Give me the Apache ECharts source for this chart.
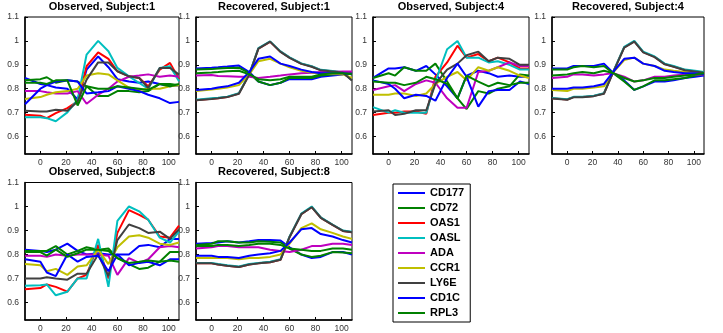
<!DOCTYPE html>
<html>
<head>
<meta charset="utf-8">
<script src="https://cdn.jsdelivr.net/npm/echarts@6/dist/echarts.min.js"></script>
<style>
  html, body { margin: 0; padding: 0; background: #fff; }
  #chart { width: 723px; height: 333px; }
</style>
</head>
<body>
<div id="chart"></div>
<script>
// time points (hours)
const hours = [-12, 0, 5, 12, 21, 29, 36, 45, 53, 60, 69, 77, 84, 93, 101, 108];
const genes = ["CD177", "CD72", "OAS1", "OASL", "ADA", "CCR1", "LY6E", "CD1C", "RPL3"];
const xTicks = [0, 20, 40, 60, 80, 100];
const yTicks = [0.6, 0.7, 0.8, 0.9, 1, 1.1];
const titles = ["Observed, Subject:1", "Recovered, Subject:1", "Observed, Subject:4",
  "Recovered, Subject:4", "Observed, Subject:8", "Recovered, Subject:8"];

// rows follow the genes order
const obs1 = [
  [0.845, 0.82, 0.815, 0.805, 0.80, 0.755, 0.88, 0.935, 0.89, 0.84, 0.83, 0.825, 0.83, 0.82, 0.81, 0.815],
  [0.835, 0.84, 0.848, 0.825, 0.835, 0.83, 0.81, 0.77, 0.77, 0.79, 0.79, 0.785, 0.79, 0.82, 0.82, 0.815],
  [0.691, 0.687, 0.677, 0.698, 0.719, 0.747, 0.894, 0.952, 0.925, 0.873, 0.852, 0.845, 0.81, 0.88, 0.908, 0.84],
  [0.681, 0.681, 0.677, 0.664, 0.701, 0.754, 0.943, 1.0, 0.957, 0.887, 0.852, 0.824, 0.80, 0.887, 0.894, 0.831],
  [0.79, 0.79, 0.785, 0.78, 0.78, 0.79, 0.737, 0.775, 0.80, 0.83, 0.85, 0.855, 0.86, 0.85, 0.855, 0.85],
  [0.757, 0.765, 0.775, 0.785, 0.79, 0.80, 0.855, 0.865, 0.86, 0.835, 0.805, 0.795, 0.80, 0.80, 0.81, 0.815],
  [0.708, 0.705, 0.705, 0.712, 0.708, 0.747, 0.838, 0.91, 0.91, 0.873, 0.852, 0.845, 0.803, 0.887, 0.887, 0.859],
  [0.735, 0.80, 0.815, 0.83, 0.835, 0.83, 0.78, 0.785, 0.79, 0.81, 0.80, 0.79, 0.775, 0.76, 0.74, 0.745],
  [0.825, 0.825, 0.82, 0.835, 0.835, 0.73, 0.81, 0.80, 0.80, 0.81, 0.805, 0.80, 0.795, 0.82, 0.81, 0.82]
];
const rec1 = [
  [0.885, 0.888, 0.89, 0.893, 0.897, 0.87, 0.83, 0.815, 0.825, 0.84, 0.84, 0.84, 0.85, 0.855, 0.86, 0.87],
  [0.88, 0.882, 0.885, 0.887, 0.888, 0.865, 0.83, 0.815, 0.825, 0.845, 0.845, 0.845, 0.855, 0.86, 0.865, 0.865],
  [0.752, 0.758, 0.76, 0.765, 0.78, 0.86, 0.968, 0.996, 0.955, 0.93, 0.905, 0.893, 0.878, 0.873, 0.868, 0.835],
  [0.754, 0.76, 0.762, 0.767, 0.781, 0.861, 0.97, 0.998, 0.956, 0.931, 0.906, 0.894, 0.879, 0.874, 0.869, 0.836],
  [0.855, 0.857, 0.853, 0.852, 0.85, 0.85, 0.845, 0.85, 0.855, 0.86, 0.865, 0.867, 0.87, 0.87, 0.872, 0.872],
  [0.79, 0.797, 0.80, 0.805, 0.815, 0.86, 0.915, 0.925, 0.905, 0.89, 0.875, 0.868, 0.862, 0.862, 0.86, 0.845],
  [0.752, 0.757, 0.76, 0.765, 0.779, 0.859, 0.968, 0.997, 0.954, 0.929, 0.904, 0.892, 0.877, 0.872, 0.867, 0.834],
  [0.795, 0.80, 0.805, 0.81, 0.825, 0.87, 0.925, 0.935, 0.905, 0.895, 0.88, 0.87, 0.865, 0.865, 0.865, 0.86],
  [0.865, 0.868, 0.87, 0.873, 0.875, 0.86, 0.84, 0.835, 0.84, 0.85, 0.85, 0.85, 0.86, 0.865, 0.865, 0.86]
];
const obs4 = [
  [0.845, 0.885, 0.885, 0.89, 0.875, 0.895, 0.86, 0.81, 0.76, 0.855, 0.875, 0.865, 0.85, 0.855, 0.85, 0.85],
  [0.845, 0.865, 0.855, 0.89, 0.875, 0.875, 0.905, 0.83, 0.76, 0.715, 0.79, 0.78, 0.80, 0.81, 0.86, 0.855],
  [0.69, 0.70, 0.70, 0.705, 0.705, 0.695, 0.85, 0.91, 0.98, 0.93, 0.945, 0.915, 0.93, 0.91, 0.885, 0.885],
  [0.723, 0.70, 0.71, 0.70, 0.70, 0.70, 0.83, 0.965, 1.0, 0.93, 0.93, 0.91, 0.915, 0.90, 0.88, 0.88],
  [0.795, 0.81, 0.815, 0.79, 0.82, 0.835, 0.825, 0.76, 0.72, 0.72, 0.87, 0.875, 0.89, 0.91, 0.895, 0.895],
  [0.775, 0.775, 0.78, 0.78, 0.77, 0.78, 0.82, 0.85, 0.87, 0.835, 0.89, 0.875, 0.89, 0.875, 0.855, 0.845],
  [0.705, 0.71, 0.69, 0.695, 0.71, 0.71, 0.82, 0.88, 0.905, 0.94, 0.955, 0.915, 0.93, 0.925, 0.90, 0.90],
  [0.835, 0.82, 0.80, 0.76, 0.775, 0.77, 0.75, 0.845, 0.905, 0.85, 0.725, 0.79, 0.795, 0.795, 0.83, 0.82],
  [0.83, 0.825, 0.825, 0.815, 0.825, 0.85, 0.84, 0.82, 0.76, 0.855, 0.83, 0.81, 0.825, 0.815, 0.825, 0.825]
];
const rec4 = [
  [0.885, 0.885, 0.895, 0.895, 0.895, 0.905, 0.868, 0.835, 0.795, 0.81, 0.83, 0.83, 0.835, 0.845, 0.85, 0.855],
  [0.88, 0.88, 0.89, 0.895, 0.89, 0.895, 0.866, 0.83, 0.795, 0.81, 0.835, 0.835, 0.84, 0.845, 0.855, 0.86],
  [0.76, 0.755, 0.765, 0.765, 0.77, 0.78, 0.866, 0.973, 0.998, 0.953, 0.933, 0.903, 0.893, 0.878, 0.873, 0.868],
  [0.761, 0.756, 0.766, 0.766, 0.771, 0.781, 0.867, 0.975, 1.0, 0.955, 0.935, 0.905, 0.895, 0.88, 0.875, 0.87],
  [0.845, 0.85, 0.86, 0.86, 0.855, 0.86, 0.865, 0.85, 0.83, 0.835, 0.85, 0.85, 0.855, 0.86, 0.86, 0.86],
  [0.795, 0.79, 0.80, 0.80, 0.805, 0.81, 0.866, 0.92, 0.93, 0.905, 0.895, 0.88, 0.875, 0.87, 0.865, 0.865],
  [0.759, 0.754, 0.764, 0.764, 0.769, 0.779, 0.865, 0.972, 0.997, 0.952, 0.932, 0.902, 0.892, 0.877, 0.872, 0.867],
  [0.80, 0.80, 0.805, 0.805, 0.81, 0.82, 0.868, 0.925, 0.93, 0.905, 0.895, 0.875, 0.87, 0.865, 0.865, 0.86],
  [0.855, 0.86, 0.865, 0.87, 0.865, 0.875, 0.866, 0.845, 0.83, 0.835, 0.845, 0.845, 0.85, 0.855, 0.86, 0.865]
];
const obs8 = [
  [0.82, 0.815, 0.81, 0.82, 0.845, 0.815, 0.80, 0.805, 0.80, 0.80, 0.80, 0.835, 0.84, 0.83, 0.865, 0.865],
  [0.815, 0.815, 0.815, 0.835, 0.80, 0.815, 0.83, 0.82, 0.825, 0.785, 0.76, 0.74, 0.745, 0.77, 0.81, 0.81],
  [0.655, 0.66, 0.675, 0.665, 0.645, 0.70, 0.715, 0.84, 0.70, 0.89, 0.985, 0.965, 0.945, 0.875, 0.87, 0.92],
  [0.67, 0.672, 0.675, 0.63, 0.645, 0.70, 0.70, 0.865, 0.665, 0.94, 1.0, 0.98, 0.945, 0.87, 0.85, 0.895],
  [0.795, 0.795, 0.79, 0.80, 0.795, 0.80, 0.80, 0.80, 0.795, 0.715, 0.785, 0.765, 0.78, 0.83, 0.835, 0.83],
  [0.76, 0.755, 0.73, 0.74, 0.715, 0.75, 0.755, 0.82, 0.76, 0.83, 0.875, 0.88, 0.87, 0.845, 0.84, 0.85],
  [0.70, 0.70, 0.705, 0.70, 0.695, 0.72, 0.72, 0.80, 0.71, 0.86, 0.925, 0.91, 0.89, 0.895, 0.865, 0.905],
  [0.78, 0.77, 0.725, 0.71, 0.80, 0.77, 0.79, 0.795, 0.73, 0.80, 0.755, 0.765, 0.77, 0.755, 0.78, 0.78],
  [0.81, 0.81, 0.795, 0.82, 0.79, 0.805, 0.82, 0.82, 0.815, 0.785, 0.765, 0.77, 0.775, 0.77, 0.775, 0.77]
];
const rec8 = [
  [0.845, 0.848, 0.85, 0.855, 0.85, 0.855, 0.86, 0.86, 0.858, 0.83, 0.80, 0.785, 0.79, 0.81, 0.81, 0.80],
  [0.84, 0.845, 0.855, 0.855, 0.85, 0.85, 0.855, 0.853, 0.85, 0.825, 0.80, 0.79, 0.795, 0.81, 0.808, 0.805],
  [0.763, 0.763, 0.758, 0.753, 0.748, 0.758, 0.763, 0.768, 0.778, 0.873, 0.968, 0.997, 0.953, 0.923, 0.898, 0.893],
  [0.765, 0.765, 0.76, 0.755, 0.75, 0.76, 0.765, 0.77, 0.78, 0.875, 0.97, 1.0, 0.955, 0.925, 0.90, 0.895],
  [0.825, 0.83, 0.835, 0.835, 0.83, 0.83, 0.83, 0.82, 0.815, 0.81, 0.82, 0.835, 0.835, 0.845, 0.845, 0.84],
  [0.785, 0.785, 0.785, 0.785, 0.78, 0.785, 0.785, 0.79, 0.80, 0.845, 0.91, 0.93, 0.905, 0.89, 0.875, 0.865],
  [0.763, 0.763, 0.758, 0.753, 0.748, 0.758, 0.763, 0.768, 0.778, 0.873, 0.968, 0.997, 0.953, 0.923, 0.898, 0.893],
  [0.795, 0.795, 0.79, 0.79, 0.785, 0.795, 0.80, 0.805, 0.815, 0.85, 0.905, 0.91, 0.885, 0.875, 0.86, 0.85],
  [0.835, 0.835, 0.84, 0.84, 0.835, 0.84, 0.845, 0.845, 0.84, 0.825, 0.82, 0.815, 0.815, 0.825, 0.825, 0.82]
];

const panels = [obs1, rec1, obs4, rec4, obs8, rec8];
const colors = ["#0000ff", "#008000", "#ff0000", "#00bfbf", "#bf00bf", "#bfbf00", "#404040", "#0000ff", "#008000"];

// subplot boxes [left, top, width, height]
const boxes = [
  [25, 17, 154, 137], [196, 17, 156, 137], [373, 17, 156, 137], [552, 17, 152, 137],
  [25, 182.5, 154, 137.5], [196, 182.5, 156, 137.5]
];

const font = "Liberation Sans, Arial, sans-serif";
let chart = echarts.init(document.getElementById("chart"));

let grid = [], xAxis = [], yAxis = [], title = [], series = [];
boxes.forEach((b, i) => {
  grid.push({
    left: b[0], top: b[1], width: b[2], height: b[3],
    show: true, borderColor: "#000", borderWidth: 1, backgroundColor: "#fff"
  });
  title.push({
    text: titles[i],
    left: b[0] + b[2] / 2, top: b[1] - 16, textAlign: "center", padding: 0,
    textStyle: { fontFamily: font, fontSize: 11, fontWeight: "bold", color: "#000" }
  });
  xAxis.push({
    type: "value", gridIndex: i, min: -12, max: 108,
    axisLine: { show: true, onZero: false, lineStyle: { color: "#000", width: 1.5 } },
    axisTick: { show: true, inside: true, length: 3, customValues: xTicks, lineStyle: { color: "#000" } },
    axisLabel: { customValues: xTicks, margin: 4, fontFamily: font, fontSize: 8.5, color: "#333" },
    splitLine: { show: false }
  });
  yAxis.push({
    type: "value", gridIndex: i, min: 0.527, max: 1.1,
    axisLine: { show: true, onZero: false, lineStyle: { color: "#000", width: 1.5 } },
    axisTick: { show: true, inside: true, length: 3, customValues: yTicks, lineStyle: { color: "#000" } },
    axisLabel: { customValues: yTicks, margin: 6, fontFamily: font, fontSize: 8.5, color: "#333" },
    splitLine: { show: false }
  });
  panels[i].forEach((vals, g) => {
    series.push({
      name: genes[g],
      type: "line",
      xAxisIndex: i,
      yAxisIndex: i,
      showSymbol: false,
      symbol: "none",
      lineStyle: { color: colors[g], width: 2 },
      itemStyle: { color: colors[g] },
      data: hours.map((h, k) => [h, vals[k]])
    });
  });
});

let option = {
  animation: false,
  backgroundColor: "#fff",
  title: title,
  grid: grid,
  xAxis: xAxis,
  yAxis: yAxis,
  legend: {
    data: genes,
    orient: "vertical",
    left: 393, top: 184,
    padding: [3, 6, 3, 5],
    itemGap: 3,
    itemWidth: 27, itemHeight: 2,
    icon: "rect",
    borderColor: "#000", borderWidth: 1,
    backgroundColor: "#fff",
    selectedMode: false,
    textStyle: { fontFamily: font, fontSize: 11, fontWeight: "bold", color: "#000", lineHeight: 12 }
  },
  series: series
};

option && chart.setOption(option);
</script>
</body>
</html>
